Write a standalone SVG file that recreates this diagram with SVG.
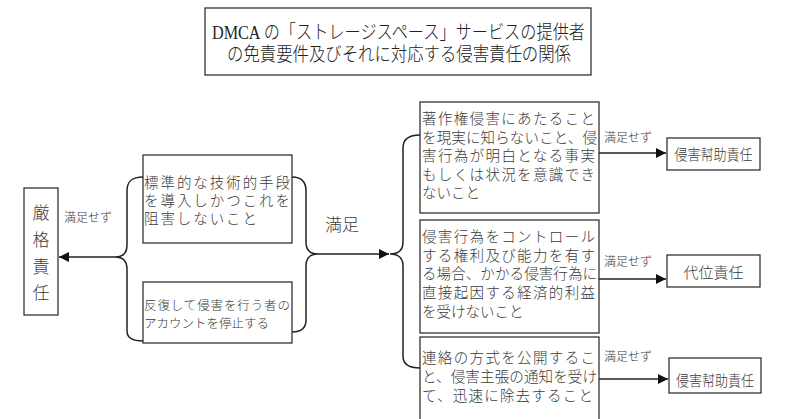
<svg xmlns="http://www.w3.org/2000/svg" width="785" height="419" viewBox="0 0 785 419">
<defs>
<style>
.box{fill:#fff;stroke:#333;stroke-width:1.3}
.t{font-family:"Noto Sans CJK JP","Liberation Sans",sans-serif;fill:#3a3a3a;font-weight:300}
.b{font-size:14.5px}
.s{font-size:12px}
.r{font-size:15px;text-anchor:middle}
.ttl{font-family:"Liberation Serif","Noto Sans CJK JP",serif;font-size:19px;fill:#222;font-weight:300}
.ln{fill:none;stroke:#222;stroke-width:1.5}
</style>
<marker id="ah" viewBox="0 0 10 10" refX="10" refY="5" markerWidth="10" markerHeight="10" markerUnits="userSpaceOnUse" orient="auto">
<path d="M0,0 L10,5 L0,10 z" fill="#111"/>
</marker>
</defs>
<rect width="785" height="419" fill="#fff"/>

<g id="title">
<rect class="box" x="205" y="8" width="386" height="67"/>
<text class="ttl" x="212" y="39" textLength="373" lengthAdjust="spacingAndGlyphs">DMCA の「ストレージスペース」サービスの提供者</text>
<text class="ttl" x="227" y="61" textLength="344" lengthAdjust="spacingAndGlyphs">の免責要件及びそれに対応する侵害責任の関係</text>
</g>

<g id="strict">
<rect class="box" x="24" y="188" width="34" height="127"/>
<text class="t" style="font-size:17px" text-anchor="middle" x="41" y="219">厳</text>
<text class="t" style="font-size:17px" text-anchor="middle" x="41" y="246">格</text>
<text class="t" style="font-size:17px" text-anchor="middle" x="41" y="273">責</text>
<text class="t" style="font-size:17px" text-anchor="middle" x="41" y="299">任</text>
</g>

<g id="cond1">
<rect class="box" x="143" y="155" width="149" height="88"/>
<text class="t b" x="144" y="188" textLength="146" lengthAdjust="spacing">標準的な技術的手段</text>
<text class="t b" x="144" y="206" textLength="146" lengthAdjust="spacing">を導入しかつこれを</text>
<text class="t b" x="144" y="224" textLength="113" lengthAdjust="spacing">阻害しないこと</text>
</g>

<g id="cond2">
<rect class="box" x="143" y="282" width="149" height="61"/>
<text class="t" style="font-size:12.5px" x="144" y="310" textLength="146" lengthAdjust="spacing">反復して侵害を行う者の</text>
<text class="t" style="font-size:12.5px" x="144" y="328">アカウントを停止する</text>
</g>

<g id="condA">
<rect class="box" x="420" y="102" width="179" height="111"/>
<text class="t b" x="422" y="124" textLength="173" lengthAdjust="spacing">著作権侵害にあたること</text>
<text class="t b" x="422" y="143" textLength="175" lengthAdjust="spacing">を現実に知らないこと、侵</text>
<text class="t b" x="422" y="161" textLength="173" lengthAdjust="spacing">害行為が明白となる事実</text>
<text class="t b" x="422" y="180" textLength="173" lengthAdjust="spacing">もしくは状況を意識でき</text>
<text class="t b" x="422" y="198">ないこと</text>
</g>

<g id="condB">
<rect class="box" x="420" y="220" width="179" height="113"/>
<text class="t b" x="422" y="242" textLength="173" lengthAdjust="spacing">侵害行為をコントロール</text>
<text class="t b" x="422" y="261" textLength="173" lengthAdjust="spacing">する権利及び能力を有す</text>
<text class="t b" x="422" y="279" textLength="175" lengthAdjust="spacing">る場合、かかる侵害行為に</text>
<text class="t b" x="422" y="298" textLength="173" lengthAdjust="spacing">直接起因する経済的利益</text>
<text class="t b" x="422" y="317">を受けないこと</text>
</g>

<g id="condC">
<rect class="box" x="420" y="337" width="179" height="90"/>
<text class="t b" x="422" y="363" textLength="173" lengthAdjust="spacing">連絡の方式を公開するこ</text>
<text class="t b" x="422" y="382" textLength="175" lengthAdjust="spacing">と、侵害主張の通知を受け</text>
<text class="t b" x="422" y="401" textLength="171" lengthAdjust="spacing">て、迅速に除去すること</text>
</g>

<g id="resA">
<rect class="box" x="667" y="138" width="93" height="32"/>
<text class="t r" x="713.5" y="159.5" textLength="78" lengthAdjust="spacingAndGlyphs">侵害幇助責任</text>
</g>
<g id="resB">
<rect class="box" x="667" y="255" width="93" height="32"/>
<text class="t r" x="713.5" y="277.5">代位責任</text>
</g>
<g id="resC">
<rect class="box" x="669" y="358" width="92" height="35"/>
<text class="t r" x="715" y="385.5" textLength="78" lengthAdjust="spacingAndGlyphs">侵害幇助責任</text>
</g>

<g id="connectors">
<path class="ln" d="M143,177 C132,177 127,181 127,191 L127,245 C127,253 123,257 115,257 C123,257 127,261 127,269 L127,331 C127,338 132,341 143,341"/>
<line class="ln" x1="115" y1="257" x2="59" y2="257" marker-end="url(#ah)"/>
<text class="t s" x="64" y="222">満足せず</text>

<path class="ln" d="M292,177 C302,177 306,182 306,191 L306,242 C306,250 310,254 318,254 C310,254 306,258 306,266 L306,320 C306,328 302,332 292,332"/>
<line class="ln" x1="318" y1="254" x2="389" y2="254" marker-end="url(#ah)"/>
<text class="t" style="font-size:17px" x="325" y="231">満足</text>

<path class="ln" d="M420,135 C409,135 403,139 403,148 L403,242 C403,250 398,254 390,254 C398,254 403,258 403,266 L403,356 C403,364 409,368 420,368"/>

<line class="ln" x1="599" y1="153" x2="666" y2="153" marker-end="url(#ah)"/>
<text class="t s" x="604" y="142">満足せず</text>
<line class="ln" x1="599" y1="279" x2="666" y2="279" marker-end="url(#ah)"/>
<text class="t s" x="604" y="266">満足せず</text>
<line class="ln" x1="599" y1="379" x2="668" y2="379" marker-end="url(#ah)"/>
<text class="t s" x="604" y="361">満足せず</text>
</g>
</svg>
